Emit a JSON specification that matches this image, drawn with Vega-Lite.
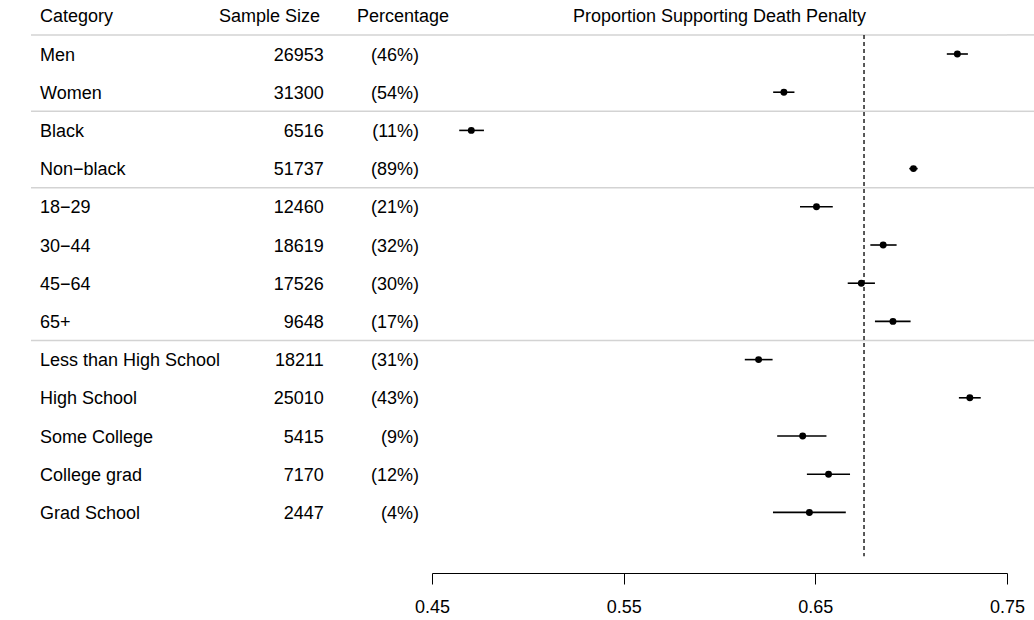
{
  "$schema": "https://vega.github.io/schema/vega-lite/v6.json",
  "padding": {"left": 30, "top": 0, "right": 0, "bottom": 0},
  "spacing": 0,
  "bounds": "flush",
  "config": {"view": {"stroke": null}},
  "datasets": {
    "rows": [
      {"row": 1, "category": "Men", "n": 26953, "pct": "(46%)", "est": 0.7241, "lo": 0.7186, "hi": 0.7296},
      {"row": 2, "category": "Women", "n": 31300, "pct": "(54%)", "est": 0.6336, "lo": 0.6280, "hi": 0.6391},
      {"row": 3, "category": "Black", "n": 6516, "pct": "(11%)", "est": 0.4705, "lo": 0.4642, "hi": 0.4771},
      {"row": 4, "category": "Non\u2212black", "n": 51737, "pct": "(89%)", "est": 0.7012, "lo": 0.6990, "hi": 0.7034},
      {"row": 5, "category": "18\u221229", "n": 12460, "pct": "(21%)", "est": 0.6506, "lo": 0.6420, "hi": 0.6591},
      {"row": 6, "category": "30\u221244", "n": 18619, "pct": "(32%)", "est": 0.6854, "lo": 0.6787, "hi": 0.6924},
      {"row": 7, "category": "45\u221264", "n": 17526, "pct": "(30%)", "est": 0.6740, "lo": 0.6669, "hi": 0.6811},
      {"row": 8, "category": "65+", "n": 9648, "pct": "(17%)", "est": 0.6905, "lo": 0.6811, "hi": 0.6997},
      {"row": 9, "category": "Less than High School", "n": 18211, "pct": "(31%)", "est": 0.6204, "lo": 0.6132, "hi": 0.6277},
      {"row": 10, "category": "High School", "n": 25010, "pct": "(43%)", "est": 0.7306, "lo": 0.7249, "hi": 0.7363},
      {"row": 11, "category": "Some College", "n": 5415, "pct": "(9%)", "est": 0.6434, "lo": 0.6301, "hi": 0.6558},
      {"row": 12, "category": "College grad", "n": 7170, "pct": "(12%)", "est": 0.6569, "lo": 0.6456, "hi": 0.6681},
      {"row": 13, "category": "Grad School", "n": 2447, "pct": "(4%)", "est": 0.6469, "lo": 0.6279, "hi": 0.6659}
    ],
    "seps": [{"y": 0.5}, {"y": 2.5}, {"y": 4.5}, {"y": 8.5}],
    "overall": [{"mean": 0.6754, "from": 0.5, "to": 14.15}]
  },
  "hconcat": [
    {
      "width": 210, "height": 573,
      "layer": [
        {"data": {"name": "seps"}, "mark": {"type": "rule", "color": "#d3d3d3", "strokeWidth": 1.5},
         "encoding": {"y": {"field": "y", "type": "quantitative", "scale": {"domain": [-0.4136, 14.586], "reverse": true, "nice": false, "zero": false}, "axis": null}}},
        {"data": {"name": "rows"}, "mark": {"type": "text", "align": "left", "baseline": "middle", "dy": 1.5, "font": "Liberation Sans", "fontSize": 18, "color": "black"},
         "encoding": {"x": {"value": 9}, "y": {"field": "row", "type": "quantitative", "scale": {"domain": [-0.4136, 14.586], "reverse": true, "nice": false, "zero": false}, "axis": null}, "text": {"field": "category"}}},
        {"data": {"values": [{"label": "Category", "row": 0}]}, "mark": {"type": "text", "align": "left", "baseline": "middle", "dy": 1.5, "font": "Liberation Sans", "fontSize": 18, "color": "black"},
         "encoding": {"x": {"value": 9}, "y": {"field": "row", "type": "quantitative", "scale": {"domain": [-0.4136, 14.586], "reverse": true, "nice": false, "zero": false}, "axis": null}, "text": {"field": "label"}}}
      ]
    },
    {
      "width": 100, "height": 573,
      "layer": [
        {"data": {"name": "seps"}, "mark": {"type": "rule", "color": "#d3d3d3", "strokeWidth": 1.5},
         "encoding": {"y": {"field": "y", "type": "quantitative", "scale": {"domain": [-0.4136, 14.586], "reverse": true, "nice": false, "zero": false}, "axis": null}}},
        {"data": {"name": "rows"}, "mark": {"type": "text", "align": "right", "baseline": "middle", "dy": 1.5, "font": "Liberation Sans", "fontSize": 18, "color": "black"},
         "encoding": {"x": {"value": 82.7}, "y": {"field": "row", "type": "quantitative", "scale": {"domain": [-0.4136, 14.586], "reverse": true, "nice": false, "zero": false}, "axis": null}, "text": {"field": "n", "type": "quantitative", "format": "d"}}},
        {"data": {"values": [{"label": "Sample Size", "row": 0}]}, "mark": {"type": "text", "align": "right", "baseline": "middle", "dy": 1.5, "font": "Liberation Sans", "fontSize": 18, "color": "black"},
         "encoding": {"x": {"value": 79}, "y": {"field": "row", "type": "quantitative", "scale": {"domain": [-0.4136, 14.586], "reverse": true, "nice": false, "zero": false}, "axis": null}, "text": {"field": "label"}}}
      ]
    },
    {
      "width": 91, "height": 573,
      "layer": [
        {"data": {"name": "seps"}, "mark": {"type": "rule", "color": "#d3d3d3", "strokeWidth": 1.5},
         "encoding": {"y": {"field": "y", "type": "quantitative", "scale": {"domain": [-0.4136, 14.586], "reverse": true, "nice": false, "zero": false}, "axis": null}}},
        {"data": {"name": "rows"}, "mark": {"type": "text", "align": "right", "baseline": "middle", "dy": 1.5, "font": "Liberation Sans", "fontSize": 18, "color": "black"},
         "encoding": {"x": {"value": 78}, "y": {"field": "row", "type": "quantitative", "scale": {"domain": [-0.4136, 14.586], "reverse": true, "nice": false, "zero": false}, "axis": null}, "text": {"field": "pct"}}},
        {"data": {"values": [{"label": "Percentage", "row": 0}]}, "mark": {"type": "text", "align": "left", "baseline": "middle", "dy": 1.5, "font": "Liberation Sans", "fontSize": 18, "color": "black"},
         "encoding": {"x": {"value": 16}, "y": {"field": "row", "type": "quantitative", "scale": {"domain": [-0.4136, 14.586], "reverse": true, "nice": false, "zero": false}, "axis": null}, "text": {"field": "label"}}}
      ]
    },
    {
      "width": 575, "height": 573,
      "layer": [
        {"data": {"name": "seps"}, "mark": {"type": "rule", "color": "#d3d3d3", "strokeWidth": 1.5},
         "encoding": {"y": {"field": "y", "type": "quantitative", "scale": {"domain": [-0.4136, 14.586], "reverse": true, "nice": false, "zero": false}, "axis": null}}},
        {"data": {"name": "overall"}, "mark": {"type": "rule", "color": "black", "strokeWidth": 1.3, "strokeDash": [4, 3]},
         "encoding": {
           "x": {"field": "mean", "type": "quantitative", "scale": {"domain": [0.45, 0.75], "nice": false, "zero": false},
                 "axis": {"values": [0.45, 0.55, 0.65, 0.75], "format": ".2f", "title": null, "grid": false, "tickSize": 11, "tickColor": "black", "domainColor": "black", "tickWidth": 1, "domainWidth": 1, "labelFont": "Liberation Sans", "labelFontSize": 18, "labelColor": "black", "labelPadding": 14, "labelFlush": false, "labelOverlap": false}},
           "y": {"field": "from", "type": "quantitative", "scale": {"domain": [-0.4136, 14.586], "reverse": true, "nice": false, "zero": false}, "axis": null},
           "y2": {"field": "to"}
         }},
        {"data": {"name": "rows"}, "mark": {"type": "rule", "color": "black", "strokeWidth": 1.6},
         "encoding": {
           "x": {"field": "lo", "type": "quantitative"},
           "x2": {"field": "hi"},
           "y": {"field": "row", "type": "quantitative", "scale": {"domain": [-0.4136, 14.586], "reverse": true, "nice": false, "zero": false}, "axis": null}
         }},
        {"data": {"name": "rows"}, "mark": {"type": "circle", "color": "black", "size": 48, "opacity": 1},
         "encoding": {
           "x": {"field": "est", "type": "quantitative"},
           "y": {"field": "row", "type": "quantitative", "scale": {"domain": [-0.4136, 14.586], "reverse": true, "nice": false, "zero": false}, "axis": null}
         }},
        {"data": {"values": [{"label": "Proportion Supporting Death Penalty", "row": 0, "mid": 0.6}]}, "mark": {"type": "text", "align": "center", "baseline": "middle", "dy": 1.5, "font": "Liberation Sans", "fontSize": 18, "color": "black"},
         "encoding": {
           "x": {"field": "mid", "type": "quantitative"},
           "y": {"field": "row", "type": "quantitative", "scale": {"domain": [-0.4136, 14.586], "reverse": true, "nice": false, "zero": false}, "axis": null},
           "text": {"field": "label"}
         }}
      ]
    },
    {
      "width": 28, "height": 573,
      "layer": [
        {"data": {"name": "seps"}, "mark": {"type": "rule", "color": "#d3d3d3", "strokeWidth": 1.5},
         "encoding": {"y": {"field": "y", "type": "quantitative", "scale": {"domain": [-0.4136, 14.586], "reverse": true, "nice": false, "zero": false}, "axis": null}}}
      ]
    }
  ]
}
